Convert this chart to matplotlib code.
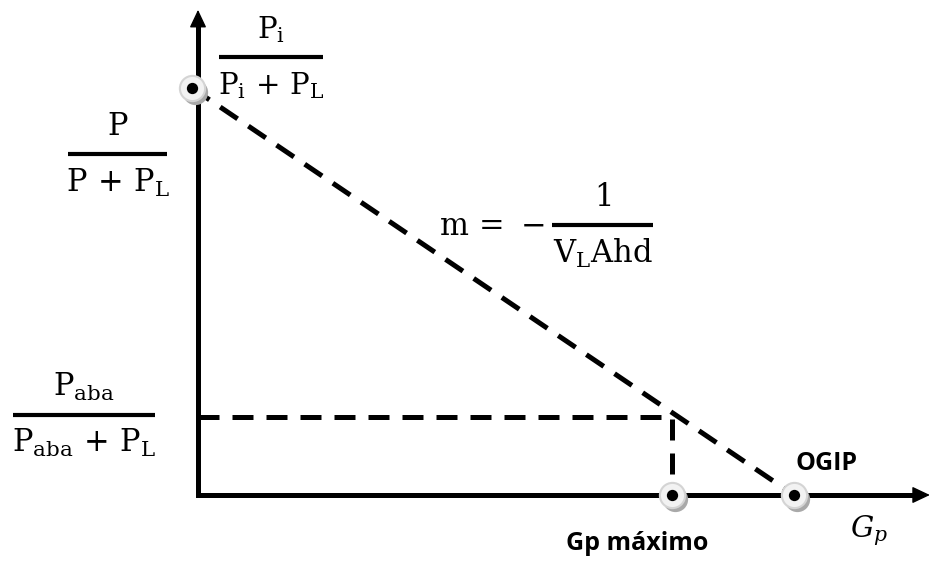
import matplotlib
matplotlib.use("Agg")
import matplotlib.pyplot as plt
from matplotlib.transforms import offset_copy

# schematic values, normalised units (OGIP = 1, P/(P+PL) at Gp=0 is 1)
ogip = 1.0
p_start = 1.0
start_x = -0.01          # first point sits just left of the y axis
gp_max = 0.795
p_aba = 0.192
x_axis_end = 1.228
y_axis_end = 1.192

plt.rcParams["mathtext.fontset"] = "dejavuserif"
plt.rcParams["font.family"] = ["Open Sans", "DejaVu Sans"]

W, H = 932, 562
fig = plt.figure(figsize=(W / 100, H / 100), dpi=100)
ax = fig.add_axes([0, 0, 1, 1])
# origin at pixel (198, 495); 596 px per x unit, 407 px per y unit
ax.set_xlim(-198 / 596, (W - 198) / 596)
ax.set_ylim(-(H - 495) / 407, 495 / 407)
ax.axis("off")

LW = 3.6
DASH = (0, (4.2, 2.6))

# axes with arrow heads
ax.plot([0, 0, x_axis_end - 0.02], [y_axis_end - 0.03, 0, 0], color="k",
        lw=LW, solid_joinstyle="miter", solid_capstyle="butt", zorder=2)
arrow = dict(arrowstyle="-|>,head_length=0.55,head_width=0.26", color="k",
             lw=1.0, mutation_scale=20, shrinkA=0, shrinkB=0)
ax.annotate("", xy=(0, y_axis_end), xytext=(0, y_axis_end - 0.05), arrowprops=arrow)
ax.annotate("", xy=(x_axis_end, 0), xytext=(x_axis_end - 0.04, 0), arrowprops=arrow)

# slope line and abandonment guides
ax.plot([start_x, ogip], [p_start, 0], color="k", lw=LW, ls=DASH, zorder=3)
ax.plot([0, gp_max, gp_max], [p_aba, p_aba, 0], color="k", lw=LW, ls=DASH,
        solid_joinstyle="miter", zorder=3)

# nodes: shadow, light ring, black dot
shadow = offset_copy(ax.transData, fig=fig, x=3, y=-4, units="dots")
node_x = [start_x, gp_max, ogip]
node_y = [p_start, 0, 0]
ax.scatter(node_x, node_y, s=330, color="#a9a9a9", transform=shadow, zorder=5, lw=0)
ax.scatter(node_x, node_y, s=330, facecolor="#f2f2f2", edgecolor="#d4d4d4",
           lw=1.5, zorder=6)
ax.scatter(node_x, node_y, s=66, color="k", zorder=7, lw=0)


def frac(x, y, num, den, width, size=22):
    ax.plot([x - width / 2, x + width / 2], [y, y], color="k", lw=3.0,
            solid_capstyle="butt", zorder=4)
    ax.annotate(num, (x, y), xytext=(0, 13.5), textcoords="offset points",
                ha="center", va="baseline", fontsize=size)
    ax.annotate(den, (x, y), xytext=(0, -27), textcoords="offset points",
                ha="center", va="baseline", fontsize=size)


frac(0.123, 1.076, r"$\mathrm{P_i}$", r"$\mathrm{P_i}\,+\,\mathrm{P_L}$", 0.1745, size=21)
frac(-0.135, 0.838, r"$\mathrm{P}$", r"$\mathrm{P}\,+\,\mathrm{P_L}$", 0.166)
frac(0.679, 0.663, r"$\mathrm{1}$", r"$\mathrm{V_LAhd}$", 0.169)
frac(-0.191, 0.197, r"$\mathrm{P_{aba}}$", r"$\mathrm{P_{aba}}\,+\,\mathrm{P_L}$", 0.238)
ax.annotate(r"$\mathrm{m}\,=\,-$", (0.582, 0.663), xytext=(0, -7),
            textcoords="offset points", ha="right", va="baseline", fontsize=22)

ax.text(1.002, 0.061, "OGIP", fontsize=18, fontweight="bold", ha="left", va="baseline")
ax.text(0.737, -0.135, "Gp máximo", fontsize=18, fontweight="bold", ha="center",
        va="baseline")
ax.text(1.094, -0.103, r"$G_p$", fontsize=21, ha="left", va="baseline")

fig.savefig("out.png", dpi=100, facecolor="white")
